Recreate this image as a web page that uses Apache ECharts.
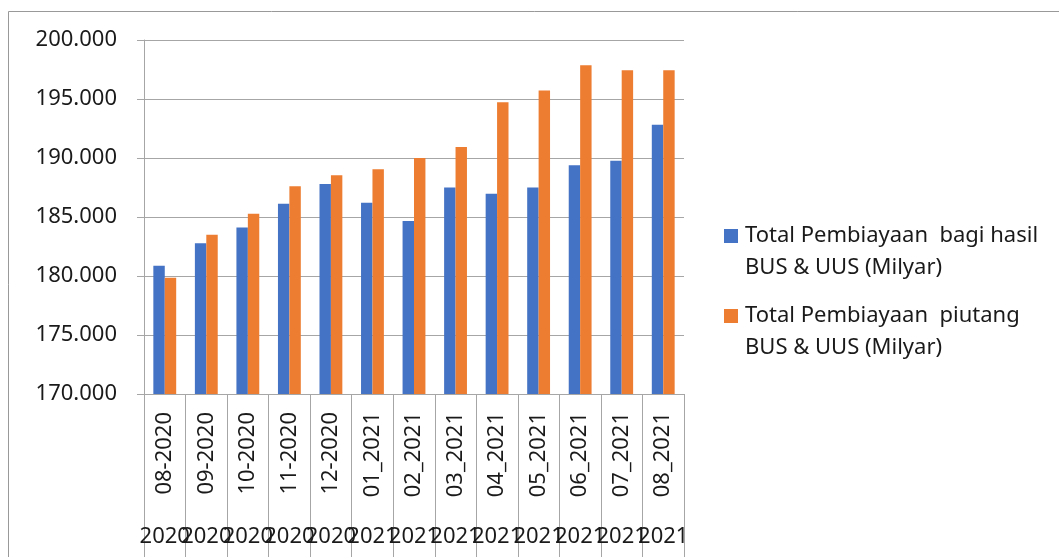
<!DOCTYPE html>
<html>
<head>
<meta charset="utf-8">
<script src="https://cdn.jsdelivr.net/npm/echarts@6/dist/echarts.min.js"></script>
<style>
  html, body { margin: 0; padding: 0; background: #fff; }
  #chart { width: 1059px; height: 557px; }
</style>
</head>
<body>
<div id="chart"></div>
<script>
const months = ['08-2020', '09-2020', '10-2020', '11-2020', '12-2020', '01_2021', '02_2021',
  '03_2021', '04_2021', '05_2021', '06_2021', '07_2021', '08_2021']
const years = ['2020', '2020', '2020', '2020', '2020', '2021', '2021',
  '2021', '2021', '2021', '2021', '2021', '2021']
const bagiHasil = [180870, 182770, 184120, 186130, 187800, 186200, 184660,
  187490, 186970, 187490, 189380, 189770, 192820]
const piutang = [179860, 183500, 185280, 187600, 188530, 189040, 190000,
  190930, 194720, 195730, 197850, 197430, 197430]
const seriesNames = ['Total Pembiayaan  bagi hasil BUS & UUS (Milyar)',
  'Total Pembiayaan  piutang BUS & UUS (Milyar)']
const legendLines = [
  ['Total Pembiayaan  bagi hasil', 'BUS & UUS (Milyar)'],
  ['Total Pembiayaan  piutang', 'BUS & UUS (Milyar)']
]
const yTicks = { min: 170000, max: 200000, interval: 5000 }

const font = 'Noto Sans'
const textColor = '#1a1a1a'
const lineColor = '#a6a6a6'
const colors = ['#4472c4', '#ed7d31']

const chart = echarts.init(document.getElementById('chart'))
chart.setOption({
  animation: false,
  color: colors,
  textStyle: { fontFamily: font },
  graphic: [{
    type: 'rect',
    shape: { x: 8.5, y: 11.5, width: 1100, height: 600 },
    style: { fill: 'none', stroke: '#999', lineWidth: 1 },
    silent: true
  }],
  grid: { left: 144, top: 40, right: 375, bottom: 163 },
  legend: {
    orient: 'vertical',
    left: 714,
    top: 220,
    itemWidth: 0,
    itemHeight: 0,
    itemGap: 26,
    icon: 'rect',
    data: seriesNames,
    formatter(name) {
      const i = seriesNames.indexOf(name)
      const l = legendLines[i]
      return `{m${i}|}{t|${l[0]}}\n{p|}{t|${l[1]}}`
    },
    textStyle: {
      fontFamily: font,
      color: textColor,
      rich: {
        m0: { width: 14, height: 14, backgroundColor: colors[0] },
        m1: { width: 14, height: 14, backgroundColor: colors[1] },
        p: { width: 14 },
        t: { fontFamily: font, fontSize: 22, lineHeight: 32, color: textColor, padding: [0, 0, 0, 7] }
      }
    }
  },
  xAxis: [{
    type: 'category',
    data: months,
    axisLine: { lineStyle: { color: lineColor } },
    axisTick: { show: true, interval: 0, length: 165, lineStyle: { color: lineColor } },
    axisLabel: {
      interval: 0,
      rotate: 90,
      margin: 18,
      fontSize: 22,
      fontFamily: font,
      color: textColor
    }
  }, {
    type: 'category',
    data: years,
    position: 'bottom',
    axisLine: { show: false },
    axisTick: { show: false },
    axisLabel: {
      interval: 0,
      margin: 132,
      fontSize: 22,
      fontFamily: font,
      color: textColor
    }
  }],
  yAxis: {
    type: 'value',
    min: yTicks.min,
    max: yTicks.max,
    interval: yTicks.interval,
    axisLine: { show: true, lineStyle: { color: lineColor } },
    axisTick: { show: true, length: 7, lineStyle: { color: lineColor } },
    splitLine: { lineStyle: { color: lineColor } },
    axisLabel: {
      margin: 27,
      fontSize: 22,
      fontFamily: font,
      color: textColor,
      formatter: v => (v / 1000).toFixed(3)
    }
  },
  series: [{
    name: seriesNames[0],
    type: 'bar',
    data: bagiHasil,
    barGap: '0%',
    barCategoryGap: '45%'
  }, {
    name: seriesNames[1],
    type: 'bar',
    data: piutang,
    barGap: '0%',
    barCategoryGap: '45%'
  }]
})
</script>
</body>
</html>
